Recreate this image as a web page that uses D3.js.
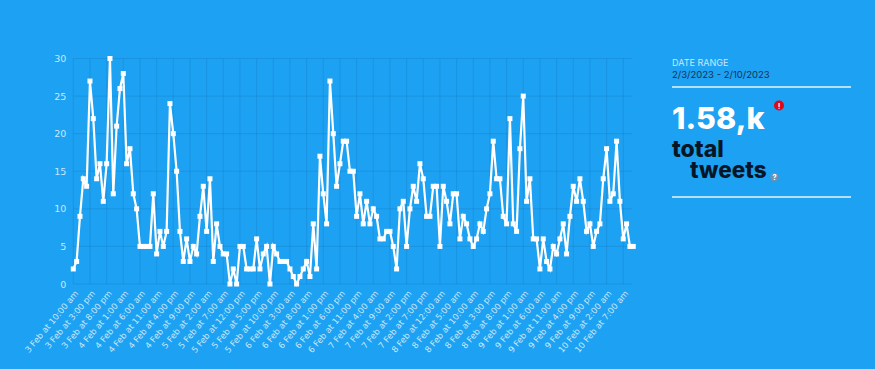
<!DOCTYPE html>
<html>
<head>
<meta charset="utf-8">
<script src="https://cdn.jsdelivr.net/npm/d3@7"></script>
<style>
  html, body { margin: 0; padding: 0; background: #1da1f2; overflow: hidden; }
  text { font-family: Inter, "Open Sans", sans-serif; }
</style>
</head>
<body>
<script>
// tweets per hour, 3 Feb 10:00 am to 10 Feb 10:00 am
const tweets = [
  2, 3, 9, 14, 13, 27, 22, 14, 16, 11,
  16, 30, 12, 21, 26, 28, 16, 18, 12, 10,
  5, 5, 5, 5, 12, 4, 7, 5, 7, 24,
  20, 15, 7, 3, 6, 3, 5, 4, 9, 13,
  7, 14, 3, 8, 5, 4, 4, 0, 2, 0,
  5, 5, 2, 2, 2, 6, 2, 4, 5, 0,
  5, 4, 3, 3, 3, 2, 1, 0, 1, 2,
  3, 1, 8, 2, 17, 12, 8, 27, 20, 13,
  16, 19, 19, 15, 15, 9, 12, 8, 11, 8,
  10, 9, 6, 6, 7, 7, 5, 2, 10, 11,
  5, 10, 13, 11, 16, 14, 9, 9, 13, 13,
  5, 13, 11, 8, 12, 12, 6, 9, 8, 6,
  5, 6, 8, 7, 10, 12, 19, 14, 14, 9,
  8, 22, 8, 7, 18, 25, 11, 14, 6, 6,
  2, 6, 3, 2, 5, 4, 6, 8, 4, 9,
  13, 11, 14, 11, 7, 8, 5, 7, 8, 14,
  18, 11, 12, 19, 11, 6, 8, 5, 5
];

// one label every 5 points
const tickLabels = [
  '3 Feb at 10:00 am', '3 Feb at 3:00 pm', '3 Feb at 8:00 pm',
  '4 Feb at 1:00 am', '4 Feb at 6:00 am', '4 Feb at 11:00 am', '4 Feb at 4:00 pm', '4 Feb at 9:00 pm',
  '5 Feb at 2:00 am', '5 Feb at 7:00 am', '5 Feb at 12:00 pm', '5 Feb at 5:00 pm', '5 Feb at 10:00 pm',
  '6 Feb at 3:00 am', '6 Feb at 8:00 am', '6 Feb at 1:00 pm', '6 Feb at 6:00 pm', '6 Feb at 11:00 pm',
  '7 Feb at 4:00 am', '7 Feb at 9:00 am', '7 Feb at 2:00 pm', '7 Feb at 7:00 pm',
  '8 Feb at 12:00 am', '8 Feb at 5:00 am', '8 Feb at 10:00 am', '8 Feb at 3:00 pm', '8 Feb at 8:00 pm',
  '9 Feb at 1:00 am', '9 Feb at 6:00 am', '9 Feb at 11:00 am', '9 Feb at 4:00 pm', '9 Feb at 9:00 pm',
  '10 Feb at 2:00 am', '10 Feb at 7:00 am'
];

const yTicks = [0, 5, 10, 15, 20, 25, 30];

const width = 875;
const height = 369;
const margin = { left: 73.3, right: 243, top: 58.5, bottom: 85 };
const textColor = '#c9e8fc';
const gridColor = 'rgba(0, 60, 120, 0.13)';

const svg = d3.select('body')
  .append('svg')
  .attr('width', width)
  .attr('height', height)
  .style('display', 'block');

const container = svg.append('g')
  .attr('transform', `translate(${margin.left}, ${margin.top})`);

const innerW = width - margin.left - margin.right;
const innerH = height - margin.top - margin.bottom;

const xScale = d3.scalePoint()
  .domain(d3.range(tweets.length))
  .range([0, 3.333 * (tweets.length - 1)]);

const yScale = d3.scaleLinear()
  .domain([0, 30])
  .range([innerH, 0]);

// grid
const tickIdx = tickLabels.map((d, i) => i * 5);

container.append('g')
  .selectAll('line')
  .data(tickIdx)
  .enter()
  .append('line')
  .attr('x1', d => xScale(d))
  .attr('x2', d => xScale(d))
  .attr('y1', 0)
  .attr('y2', innerH)
  .attr('stroke', gridColor);

container.append('g')
  .selectAll('line')
  .data(yTicks)
  .enter()
  .append('line')
  .attr('x1', 0)
  .attr('x2', innerW)
  .attr('y1', d => yScale(d))
  .attr('y2', d => yScale(d))
  .attr('stroke', gridColor);

// axes
const xAxis = container.append('g')
  .attr('transform', `translate(0, ${innerH})`)
  .call(d3.axisBottom(xScale)
    .tickValues(tickIdx)
    .tickSize(0)
    .tickFormat(d => tickLabels[d / 5]));

xAxis.select('.domain').remove();
xAxis.selectAll('text')
  .attr('transform', 'translate(3, 8) rotate(-50)')
  .attr('text-anchor', 'end')
  .attr('x', 0)
  .attr('y', 0)
  .attr('dy', '0.32em')
  .style('font-size', '8.5px')
  .style('font-family', '"DejaVu Sans", sans-serif')
  .style('fill', textColor);

const yAxis = container.append('g')
  .call(d3.axisLeft(yScale)
    .tickValues(yTicks)
    .tickSize(0)
    .tickPadding(7));

yAxis.select('.domain').remove();
yAxis.selectAll('text')
  .style('font-size', '9.5px')
  .style('font-family', '"DejaVu Sans", sans-serif')
  .style('fill', textColor);

// line + square markers
const line = d3.line()
  .x((d, i) => xScale(i))
  .y(d => yScale(d));

container.append('path')
  .datum(tweets)
  .attr('d', line)
  .attr('fill', 'none')
  .attr('stroke', '#fff')
  .attr('stroke-width', 2.2)
  .attr('stroke-linejoin', 'miter');

container.append('g')
  .selectAll('rect')
  .data(tweets)
  .enter()
  .append('rect')
  .attr('x', (d, i) => xScale(i) - 2.5)
  .attr('y', d => yScale(d) - 2.5)
  .attr('width', 5)
  .attr('height', 5)
  .attr('fill', '#fff');

// side panel
const panel = svg.append('g').attr('transform', 'translate(672, 0)');

panel.append('text')
  .attr('x', 0).attr('y', 66)
  .style('font-size', '9px')
  .style('fill', textColor)
  .text('DATE RANGE');

panel.append('text')
  .attr('x', 0).attr('y', 78)
  .style('font-size', '9.5px')
  .style('fill', '#12324f')
  .text('2/3/2023 - 2/10/2023');

panel.selectAll('line.rule')
  .data([87, 197])
  .enter()
  .append('line')
  .attr('class', 'rule')
  .attr('x1', 0)
  .attr('x2', 179)
  .attr('y1', d => d)
  .attr('y2', d => d)
  .attr('stroke', '#e8f6ff')
  .attr('stroke-width', 1.5);

panel.append('text')
  .attr('x', 0).attr('y', 129)
  .style('font-size', '30.5px')
  .style('font-weight', 800)
  .style('fill', '#fff')
  .text('1.58,k');

panel.append('text')
  .attr('x', 0).attr('y', 157)
  .style('font-size', '23px')
  .style('font-weight', 800)
  .style('fill', '#071626')
  .text('total');

panel.append('text')
  .attr('x', 18).attr('y', 178)
  .style('font-size', '22.5px')
  .style('font-weight', 800)
  .style('fill', '#071626')
  .text('tweets');

panel.append('circle')
  .attr('cx', 107).attr('cy', 105.5).attr('r', 5)
  .attr('fill', '#e30613');
panel.append('text')
  .attr('x', 107).attr('y', 108.5)
  .attr('text-anchor', 'middle')
  .style('font-size', '8px')
  .style('font-weight', 700)
  .style('fill', '#fff')
  .text('!');

panel.append('circle')
  .attr('cx', 102.5).attr('cy', 177).attr('r', 4.2)
  .attr('fill', '#6f93ad');
panel.append('text')
  .attr('x', 102.5).attr('y', 180)
  .attr('text-anchor', 'middle')
  .style('font-size', '7.5px')
  .style('font-weight', 700)
  .style('fill', '#fff')
  .text('?');
</script>
</body>
</html>
